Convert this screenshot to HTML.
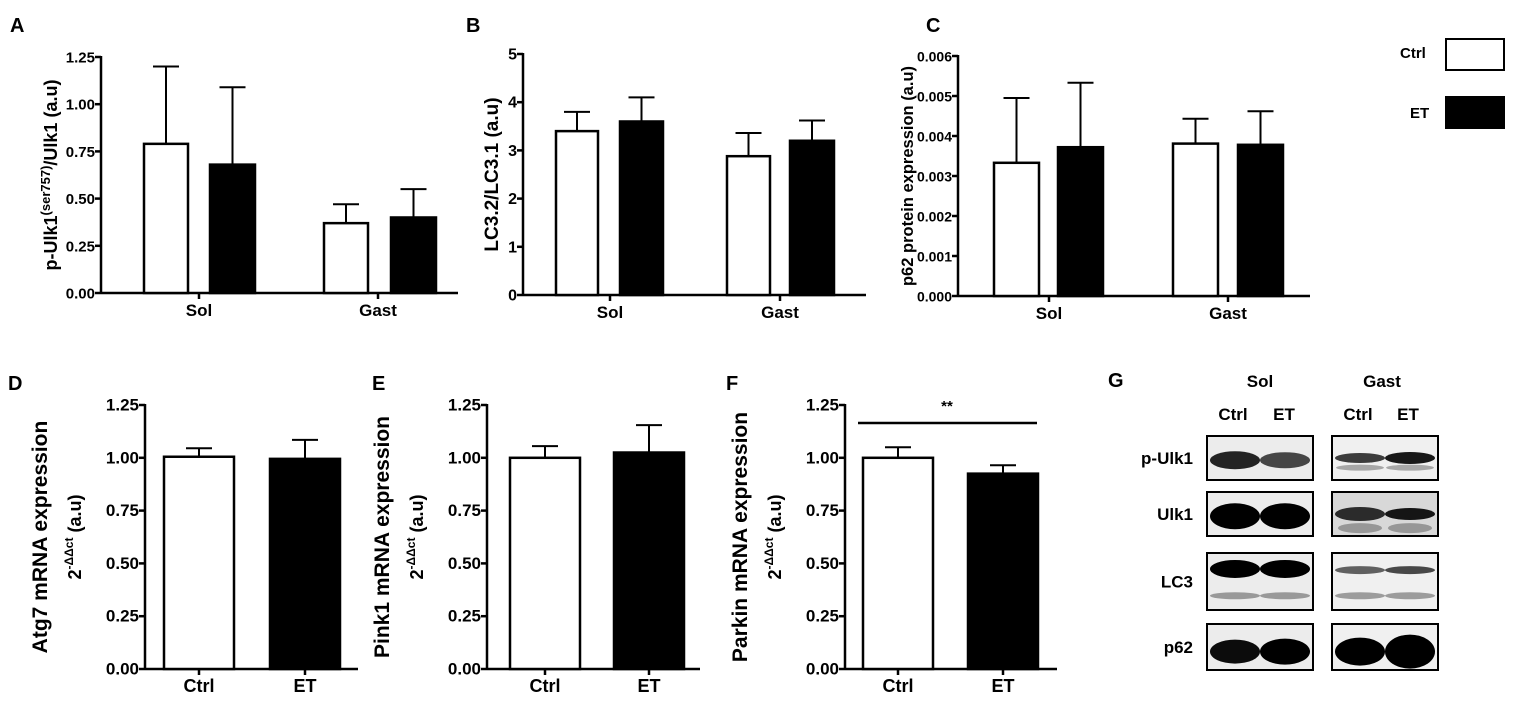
<!DOCTYPE html>
<html><head><meta charset="utf-8"><style>
body{margin:0;background:#fff;}
svg{display:block;font-family:"Liberation Sans",Arial,sans-serif;font-weight:bold;}
</style></head><body>
<svg id="fig" width="1535" height="704" viewBox="0 0 1535 704" xmlns="http://www.w3.org/2000/svg">
<g id="charts"></g>
<g>
<text x="1400" y="58" font-size="15">Ctrl</text>
<rect x="1446" y="39" width="58" height="31" fill="#fff" stroke="#000" stroke-width="2"/>
<text x="1410" y="118" font-size="15">ET</text>
<rect x="1446" y="97" width="58" height="31" fill="#000" stroke="#000" stroke-width="2"/>
</g>
<g id="blot"></g>
</svg>
<script>
const NS="http://www.w3.org/2000/svg";
// Panel A
const catsA=["Sol","Gast"];
const ctrlA=[0.79,0.37], etA=[0.68,0.40], ctrlErrA=[1.20,0.47], etErrA=[1.09,0.55];
const ticksA=["0.00","0.25","0.50","0.75","1.00","1.25"];
// Panel B
const catsB=["Sol","Gast"];
const ctrlB=[3.40,2.88], etB=[3.60,3.20], ctrlErrB=[3.80,3.36], etErrB=[4.10,3.62];
const ticksB=["0","1","2","3","4","5"];
// Panel C
const catsC=["Sol","Gast"];
const ctrlC=[0.00333,0.00381], etC=[0.00372,0.00378], ctrlErrC=[0.00495,0.00443], etErrC=[0.00533,0.00462];
const ticksC=["0.000","0.001","0.002","0.003","0.004","0.005","0.006"];
// Panels D,E,F
const catsDEF=["Ctrl","ET"];
const valsD=[1.005,0.995], errD=[1.045,1.085];
const valsE=[1.00,1.025], errE=[1.055,1.155];
const valsF=[1.00,0.925], errF=[1.05,0.965];
const ticksDEF=["0.00","0.25","0.50","0.75","1.00","1.25"];

const root=document.getElementById('charts');
function mk(tag,attrs,parent,txt){const e=document.createElementNS(NS,tag);for(const k in attrs)e.setAttribute(k,attrs[k]);if(txt!==undefined)e.textContent=txt;(parent||root).appendChild(e);return e;}

function chart(o){
  const g=mk('g',{});
  
  
  const lab=mk('text',{x:o.lx,y:o.ly,'font-size':20},g,o.id.toUpperCase());
  
  
  const ymax=parseFloat(o.ticks[o.ticks.length-1]);
  const ys=v=>o.y0-(v/ymax)*(o.y0-o.y1);
  const ya=mk('line',{x1:o.ax,y1:o.y1-1,x2:o.ax,y2:o.y0+1,stroke:'#000','stroke-width':2.5},g);
  
  
  o.ticks.forEach(t=>{
    const y=ys(parseFloat(t));
    mk('line',{x1:o.ax-6,y1:y,x2:o.ax,y2:y,stroke:'#000','stroke-width':2.5},g);
    const tl=mk('text',{x:o.ax-6,y:y+5.5,'font-size':o.tfs||16,'text-anchor':'end'},g,t);
    
    
  });
  const xa=mk('line',{x1:o.ax,y1:o.y0,x2:o.xend,y2:o.y0,stroke:'#000','stroke-width':2.5},g);
  
  
  const yt=mk('text',{transform:`translate(${o.tx},${(o.y0+o.y1)/2}) rotate(-90)`,'font-size':o.titleFs||18,'text-anchor':'middle'},g);
  yt.innerHTML=o.title;
  
  
  if(o.title2){const y2=mk('text',{transform:`translate(${o.tx2},${(o.y0+o.y1)/2}) rotate(-90)`,'font-size':18,'text-anchor':'middle'},g);y2.innerHTML=o.title2;}
  o.groups.forEach((grp,i)=>{
    const tx=grp.tick;
    mk('line',{x1:tx,y1:o.y0,x2:tx,y2:o.y0+6,stroke:'#000','stroke-width':2.5},g);
    const cl=mk('text',{x:tx,y:o.y0+23,'font-size':o.cfs||17,'text-anchor':'middle'},g,o.cats[i]);
    
    
    grp.bars.forEach(b=>{
      const top=ys(b.v), et=ys(b.e), cx=b.x+b.w/2;
      mk('line',{x1:cx,y1:top,x2:cx,y2:et,stroke:'#000','stroke-width':2},g);
      mk('line',{x1:cx-13,y1:et,x2:cx+13,y2:et,stroke:'#000','stroke-width':2},g);
      const r=mk('rect',{x:b.x,y:top,width:b.w,height:o.y0-top,fill:b.fill,stroke:'#000','stroke-width':2.5},g);
      
      
    });
  });
  return {g,ys};
}
// A
chart({id:'a',lx:10,ly:32,ax:101,y0:293,y1:57,xend:458,tx:57,titleFs:18,tfs:15,ticks:ticksA,cats:catsA,
 title:'p-Ulk1<tspan font-size="13" dy="-7">(ser757)</tspan><tspan dy="7">/Ulk1 (a.u)</tspan>',
 groups:[{tick:199,bars:[{x:144,w:44,v:ctrlA[0],e:ctrlErrA[0],fill:'#fff',n:'sol-ctrl'},{x:210,w:45,v:etA[0],e:etErrA[0],fill:'#000',n:'sol-et'}]},
 {tick:378,bars:[{x:324,w:44,v:ctrlA[1],e:ctrlErrA[1],fill:'#fff',n:'gast-ctrl'},{x:391,w:45,v:etA[1],e:etErrA[1],fill:'#000',n:'gast-et'}]}]});
// B
chart({id:'b',lx:466,ly:32,ax:523,y0:295,y1:54,xend:866,tx:498,titleFs:19,tfs:16,ticks:ticksB,cats:catsB,title:'LC3.2/LC3.1 (a.u)',
 groups:[{tick:610,bars:[{x:556,w:42,v:ctrlB[0],e:ctrlErrB[0],fill:'#fff',n:'sol-ctrl'},{x:620,w:43,v:etB[0],e:etErrB[0],fill:'#000',n:'sol-et'}]},
 {tick:780,bars:[{x:727,w:43,v:ctrlB[1],e:ctrlErrB[1],fill:'#fff',n:'gast-ctrl'},{x:790,w:44,v:etB[1],e:etErrB[1],fill:'#000',n:'gast-et'}]}]});
// C
chart({id:'c',lx:926,ly:32,ax:958,y0:296,y1:56,xend:1310,tx:913,titleFs:16.5,tfs:14,ticks:ticksC,cats:catsC,title:'p62 protein expression (a.u)',
 groups:[{tick:1049,bars:[{x:994,w:45,v:ctrlC[0],e:ctrlErrC[0],fill:'#fff',n:'sol-ctrl'},{x:1058,w:45,v:etC[0],e:etErrC[0],fill:'#000',n:'sol-et'}]},
 {tick:1228,bars:[{x:1173,w:45,v:ctrlC[1],e:ctrlErrC[1],fill:'#fff',n:'gast-ctrl'},{x:1238,w:45,v:etC[1],e:etErrC[1],fill:'#000',n:'gast-et'}]}]});
// D E F
function mrna(id,lx,ax,b1,b2,xend,vals,errs,gene){
  return chart({id,lx,ly:390,ax,y0:669,y1:405,xend,tx:ax-98,tx2:ax-64,titleFs:21,tfs:17,cfs:18,ticks:ticksDEF,cats:catsDEF,
   title:gene+' mRNA expression',
   title2:'2<tspan font-size="12" dy="-8">-ΔΔct</tspan><tspan dy="8"> (a.u)</tspan>',
   groups:[{tick:b1+35,bars:[{x:b1,w:70,v:vals[0],e:errs[0],fill:'#fff',n:'ctrl'}]},
   {tick:b2+35,bars:[{x:b2,w:70,v:vals[1],e:errs[1],fill:'#000',n:'et'}]}]});
}
mrna('d',8,145,164,270,358,valsD,errD,'Atg7');
mrna('e',372,487,510,614,700,valsE,errE,'Pink1');
const f=mrna('f',726,845,863,968,1057,valsF,errF,'Parkin');
const sig=mk('line',{x1:858,y1:423,x2:1037,y2:423,stroke:'#000','stroke-width':2.5},f.g);


const st=mk('text',{x:947,y:411,'font-size':15,'text-anchor':'middle'},f.g,'**');



// G blot
const bg=document.getElementById('blot');
mk('text',{x:1108,y:387,'font-size':20},bg,'G');
mk('text',{x:1260,y:387,'font-size':17,'text-anchor':'middle'},bg,'Sol');
mk('text',{x:1382,y:387,'font-size':17,'text-anchor':'middle'},bg,'Gast');
[['Ctrl',1233],['ET',1284],['Ctrl',1358],['ET',1408]].forEach(([t,x])=>mk('text',{x,y:420,'font-size':17,'text-anchor':'middle'},bg,t));
const rows=[['p-Ulk1',436,44],['Ulk1',492,44],['LC3',553,57],['p62',624,46]];
const dens={'p-Ulk1':[[0.55,0.85,9],[0.55,0.7,8],[0.5,0.75,5],[0.5,0.9,6]],'Ulk1':[[0.55,1,13],[0.55,1,13],[0.5,0.8,7],[0.5,0.9,6]],
 'LC3':[[0.28,1,9],[0.28,1,9],[0.3,0.6,4],[0.3,0.7,4]],'p62':[[0.6,0.95,12],[0.6,1,13],[0.6,1,14],[0.6,1,17]]};
rows.forEach(([name,y,h],ri)=>{
  const lt=mk('text',{x:1193,y:y+h/2+6,'font-size':17,'text-anchor':'end'},bg,name);
  
  
  [[1207,0],[1332,2]].forEach(([bx,k])=>{
    const r=mk('rect',{x:bx,y:y,width:106,height:h,fill:k?(name==='Ulk1'?'#d8d8d8':'#f0f0f0'):'#ececec',stroke:'#000','stroke-width':2},bg);
    
    
    [0,1].forEach(l=>{
      const d=dens[name][k+l];
      const cx=bx+28+l*50, cy=y+h*d[0];
      mk('ellipse',{cx,cy,rx:25,ry:d[2],fill:'#000','fill-opacity':d[1]},bg);
      if(name==='LC3')mk('ellipse',{cx,cy:y+h*0.75,rx:25,ry:3.5,fill:'#000','fill-opacity':0.35},bg);
      if(name==='Ulk1'&&k)mk('ellipse',{cx,cy:y+h*0.82,rx:22,ry:5,fill:'#000','fill-opacity':0.3},bg);
      if(name==='p-Ulk1'&&k)mk('ellipse',{cx,cy:y+h*0.72,rx:24,ry:3,fill:'#000','fill-opacity':0.3},bg);
    });
  });
});
</script>
</body></html>
